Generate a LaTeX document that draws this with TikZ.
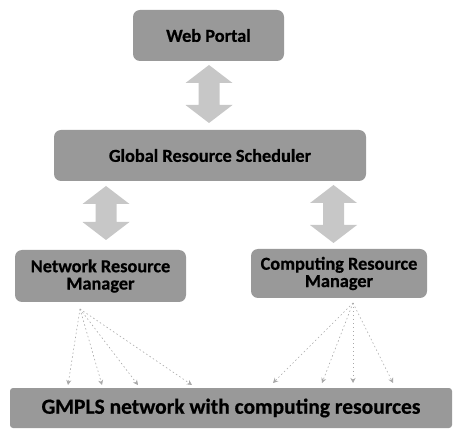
\documentclass[tikz,border=0pt]{standalone}
\usepackage{fontspec}
\setmainfont{Carlito}[BoldFeatures={FakeBold=0.6}]
\usetikzlibrary{arrows.meta,calc}

\definecolor{boxgray}{gray}{0.6}
\definecolor{arrowgray}{gray}{0.78}
\definecolor{linkgray}{gray}{0.66}

\tikzset{
  layerbox/.style={fill=boxgray, rounded corners=7pt, inner sep=0pt,
    font=\bfseries\fontsize{18.3}{18.3}\selectfont, align=center, text=black},
  linkarrow/.style={draw=linkgray, line width=0.6pt, dash pattern=on 1.5pt off 2.5pt,
    -{Stealth[length=5pt,width=5pt]}}
}

% vertical two-headed block arrow: centre x, top y, bottom y
\newcommand\vblockarrow[3]{%
  \fill[arrowgray] (#1,#2) -- (#1+23.5,#2+18) -- (#1+10.5,#2+18) -- (#1+10.5,#3-18)
    -- (#1+23.5,#3-18) -- (#1,#3) -- (#1-23.5,#3-18) -- (#1-10.5,#3-18)
    -- (#1-10.5,#2+18) -- (#1-23.5,#2+18) -- cycle;}

\begin{document}
\begin{tikzpicture}[x=1pt,y=-1pt]
  \useasboundingbox (0,0) rectangle (455,435);

  % management layers
  \node[layerbox, minimum width=151pt, minimum height=51pt] (wp) at (208.5,35.5) {Web Portal};
  \node[layerbox, minimum width=312pt, minimum height=51pt] (grs) at (210,155.5) {Global Resource Scheduler};
  \node[layerbox, minimum width=171pt, minimum height=52pt] (nrm) at (100.5,276) {Network Resource\\[-1pt]Manager};
  \node[layerbox, minimum width=176pt, minimum height=49pt] (crm) at (339,273.5) {Computing Resource\\[-1pt]Manager};
  \node[layerbox, rounded corners=3pt, minimum width=442pt, minimum height=40pt,
        font=\bfseries\fontsize{21.5}{21.5}\selectfont] (net) at (231,408) {GMPLS network with computing resources};

  % two-way exchanges between layers
  \vblockarrow{209}{65}{123}
  \vblockarrow{106}{186}{240}
  \vblockarrow{333.5}{185}{243}

  % control links down to the network
  \coordinate (n0) at (80,309);
  \coordinate (c0) at (353,303);
  \coordinate (nt1) at (68,385);
  \coordinate (nt2) at (102,385);
  \coordinate (nt3) at (138,385);
  \coordinate (nt4) at (192,385);
  \coordinate (ct1) at (273,383);
  \coordinate (ct2) at (322,383);
  \coordinate (ct3) at (353,383);
  \coordinate (ct4) at (393,383);
  \foreach \t in {nt1,nt2,nt3,nt4} \draw[linkarrow] (n0) -- (\t);
  \foreach \t in {ct1,ct2,ct3,ct4} \draw[linkarrow] (c0) -- (\t);
\end{tikzpicture}
\end{document}
